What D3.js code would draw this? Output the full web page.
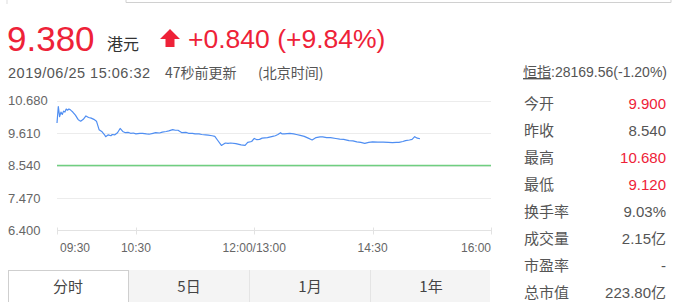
<!DOCTYPE html>
<html>
<head>
<meta charset="utf-8">
<script src="https://cdn.jsdelivr.net/npm/d3@7"></script>
<style>
  body { margin: 0; background: #fff; }
  svg { display: block; font-family: "Liberation Sans", Arial, "Noto Sans CJK SC", sans-serif; }
</style>
</head>
<body>
<svg id="chart" width="692" height="302"></svg>
<script>
// intraday prices (HKT)
const times = ["09:30","09:31","09:32","09:33","09:34","09:35","09:36","09:37","09:38","09:39","09:40","09:41","09:42","09:44","09:46","09:47","09:48","09:50","09:52","09:54","09:56","09:58","10:00","10:02","10:04","10:06","10:07","10:09","10:11","10:12","10:14","10:16","10:18","10:20","10:22","10:24","10:26","10:28","10:30","10:33","10:35","10:38","10:40","10:43","10:45","10:48","10:50","10:53","10:55","10:58","11:00","11:02","11:05","11:08","11:10","11:13","11:15","11:18","11:20","11:23","11:25","11:28","11:30","11:32","11:35","11:38","11:40","11:42","11:46","11:50","11:53","11:55","11:58","12:00","13:02","13:04","13:06","13:08","13:10","13:14","13:16","13:18","13:20","13:21","13:23","13:27","13:30","13:32","13:35","13:38","13:41","13:44","13:47","13:50","13:52","13:55","13:58","14:02","14:05","14:08","14:12","14:15","14:18","14:21","14:24","14:27","14:30","14:34","14:38","14:42","14:45","14:48","14:50","14:53","14:55","14:58","15:00","15:02","15:04","15:06"];
const prices = [9.94,10.48,10.15,10.30,10.22,10.33,10.30,10.40,10.36,10.40,10.38,10.34,10.30,10.20,10.06,10.02,10.00,10.06,10.17,10.12,10.10,10.06,10.00,9.72,9.66,9.56,9.49,9.55,9.52,9.56,9.55,9.62,9.76,9.66,9.62,9.63,9.60,9.61,9.58,9.60,9.60,9.58,9.57,9.60,9.62,9.61,9.64,9.66,9.68,9.72,9.70,9.70,9.62,9.63,9.60,9.60,9.58,9.58,9.56,9.55,9.54,9.52,9.50,9.38,9.20,9.28,9.27,9.28,9.26,9.22,9.20,9.30,9.33,9.43,9.39,9.40,9.44,9.45,9.46,9.50,9.52,9.56,9.62,9.58,9.58,9.60,9.58,9.56,9.53,9.50,9.44,9.38,9.46,9.48,9.48,9.46,9.46,9.43,9.41,9.40,9.36,9.35,9.32,9.30,9.27,9.30,9.32,9.31,9.31,9.30,9.29,9.30,9.30,9.33,9.36,9.38,9.40,9.49,9.44,9.42];
const prevClose = 8.54;
const yTicks = [10.68, 9.61, 8.54, 7.47, 6.40];
const xTicks = ["09:30", "10:30", "12:00/13:00", "14:30", "16:00"];
const xTickTimes = ["09:30", "10:30", "12:00", "14:30", "16:00"];
const statLabels = ["今开", "昨收", "最高", "最低", "换手率", "成交量", "市盈率", "总市值"];
const statValues = ["9.900", "8.540", "10.680", "9.120", "9.03%", "2.15亿", "-", "223.80亿"];
const statUp = [true, false, true, true, false, false, false, false];
const tabs = ["分时", "5日", "1月", "1年"];

const RED = "#ee2238";
const svg = d3.select("#chart");

// trading minutes since open, lunch break collapsed
const toMin = (t) => {
  const [h, m] = t.split(":").map(Number);
  const v = h * 60 + m;
  return v >= 13 * 60 ? v - 570 - 60 : v - 570;
};

const x = d3.scaleLinear().domain([0, 330]).range([57, 491]);
const y = d3.scaleLinear().domain([6.4, 10.68]).range([230.5, 100.5]);

// top box edge (cut off)
svg.append("path").attr("d", "M126,0V2.5H671V0").attr("fill", "none").attr("stroke", "#d0d0d0");
svg.append("line").attr("x1", 7).attr("x2", 7).attr("y1", 0).attr("y2", 4).attr("stroke", "#ddd");

// header
const head = svg.append("g");
head.append("text").attr("x", 7).attr("y", 51).attr("fill", RED)
  .attr("font-size", 35).text("9.380");
head.append("text").attr("x", 107).attr("y", 50).attr("fill", "#333")
  .attr("font-size", 16).attr("font-family", "Noto Sans CJK SC").text("港元");
head.append("path").attr("fill", RED)
  .attr("d", "M170,29L180,39L174.5,39L174.5,47L165.5,47L165.5,39L160,39Z");
head.append("text").attr("x", 188).attr("y", 48).attr("fill", RED)
  .attr("font-size", 26.5).text("+0.840 (+9.84%)");

head.append("text").attr("x", 8).attr("y", 78).attr("fill", "#555").attr("font-size", 14.5)
  .attr("letter-spacing", 0.5).text("2019/06/25 15:06:32");
head.append("text").attr("x", 165).attr("y", 78).attr("fill", "#555").attr("font-size", 14)
  .attr("font-family", "Noto Sans CJK SC").text("47秒前更新");
head.append("text").attr("x", 258).attr("y", 78).attr("fill", "#555").attr("font-size", 14)
  .attr("font-family", "Noto Sans CJK SC").text("(北京时间)");

const hsi = head.append("text").attr("x", 667).attr("y", 77).attr("text-anchor", "end")
  .attr("fill", "#555").attr("font-size", 14);
hsi.append("tspan").attr("text-decoration", "underline").attr("font-family", "Noto Sans CJK SC").text("恒指");
hsi.append("tspan").text(":28169.56(-1.20%)");

// grid
const grid = svg.append("g");
grid.selectAll("line").data(yTicks.slice(0, 4)).join("line")
  .attr("x1", 57).attr("x2", 491)
  .attr("y1", (d) => Math.round(y(d)) + 0.5).attr("y2", (d) => Math.round(y(d)) + 0.5)
  .attr("stroke", "#ececec");

grid.selectAll("text").data(yTicks).join("text")
  .attr("x", 8).attr("y", (d) => y(d) + 4.5)
  .attr("fill", "#666").attr("font-size", 13)
  .text((d) => d3.format(".3f")(d));

// x axis
const xAxis = svg.append("g").attr("transform", "translate(0,230.5)");
xAxis.append("line").attr("x1", 57).attr("x2", 491).attr("stroke", "#e2e2e2");
xAxis.selectAll(".tick").data(xTickTimes).join("line")
  .attr("class", "tick")
  .attr("x1", (d) => Math.round(x(toMin(d))) + 0.5).attr("x2", (d) => Math.round(x(toMin(d))) + 0.5)
  .attr("y1", -3).attr("y2", 4).attr("stroke", "#e2e2e2");
xAxis.selectAll("text").data(xTicks).join("text")
  .attr("x", (d, i) => i === 0 ? 60 : x(toMin(xTickTimes[i])))
  .attr("y", 21)
  .attr("text-anchor", (d, i) => i === 0 ? "start" : i === xTicks.length - 1 ? "end" : "middle")
  .attr("fill", "#666").attr("font-size", 12)
  .text((d) => d);

// previous close
svg.append("line")
  .attr("x1", 57).attr("x2", 491)
  .attr("y1", y(prevClose)).attr("y2", y(prevClose))
  .attr("stroke", "#6fcf80").attr("stroke-width", 1.5);

// price line
const series = times.map((t, i) => ({ m: toMin(t), p: prices[i] }));
svg.append("path").datum(series)
  .attr("fill", "none").attr("stroke", "#4f8ef2").attr("stroke-width", 1.2)
  .attr("stroke-linejoin", "round")
  .attr("d", d3.line().x((d) => x(d.m)).y((d) => y(d.p)));

// stats panel
const stats = svg.append("g").attr("font-size", 15);
stats.selectAll(".lbl").data(statLabels).join("text")
  .attr("class", "lbl")
  .attr("x", 524).attr("y", (d, i) => 109 + i * 27)
  .attr("fill", "#555").attr("font-family", "Noto Sans CJK SC")
  .text((d) => d);
stats.selectAll(".val").data(statValues).join("text")
  .attr("class", "val")
  .attr("x", 666).attr("y", (d, i) => 109 + i * 27)
  .attr("text-anchor", "end")
  .attr("fill", (d, i) => statUp[i] ? RED : "#555")
  .text((d) => d);

// tabs
const tabW = 121;
const tabG = svg.append("g");
tabG.append("rect").attr("x", 128).attr("y", 270).attr("width", 362).attr("height", 40).attr("fill", "#f4f4f4");
tabG.selectAll(".sep").data([1, 2]).join("line")
  .attr("class", "sep")
  .attr("x1", (d) => 128.5 + d * tabW).attr("x2", (d) => 128.5 + d * tabW)
  .attr("y1", 270).attr("y2", 302).attr("stroke", "#e4e4e4");
tabG.append("rect").attr("x", 8.5).attr("y", 270.5).attr("width", 120).attr("height", 40)
  .attr("fill", "#fff").attr("stroke", "#cfcfcf");
tabG.selectAll("text").data(tabs).join("text")
  .attr("x", (d, i) => 68 + i * tabW).attr("y", 292)
  .attr("text-anchor", "middle").attr("fill", "#444").attr("font-size", 15)
  .attr("font-family", "Noto Sans CJK SC")
  .text((d) => d);
</script>
</body>
</html>
